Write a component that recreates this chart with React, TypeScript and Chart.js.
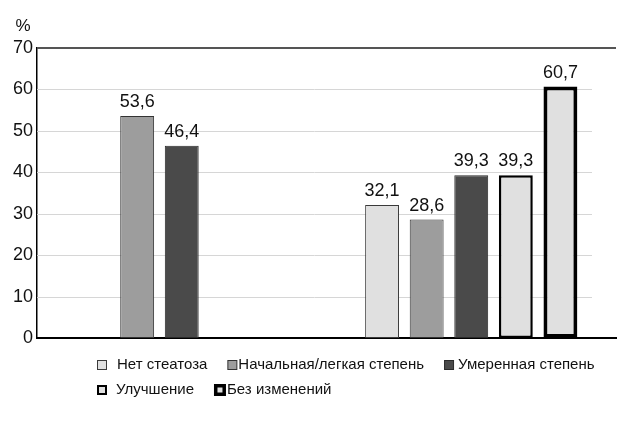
import React, { useEffect, useRef } from "react";
import { Chart, registerables } from "chart.js";

Chart.register(...registerables);

const categories = ["", ""];
const seriesNames = [
  "Нет стеатоза",
  "Начальная/легкая степень",
  "Умеренная степень",
  "Улучшение",
  "Без изменений",
];
const noSteatosis = [null, 32.1];
const initialMild = [53.6, 28.6];
const moderate = [46.4, 39.3];
const improvement = [null, 39.3];
const noChange = [null, 60.7];
const yTicks = [0, 10, 20, 30, 40, 50, 60, 70];
const yUnit = "%";

const FONT = "'Liberation Sans', Arial, sans-serif";
const LIGHT = "#e0e0e0";
const MID = "#9d9d9d";
const DARK = "#4a4a4a";

const fills = [LIGHT, MID, DARK, LIGHT, LIGHT];
const borders = ["#3a3a3a", "#333333", "#2a2a2a", "#000000", "#000000"];
const borderWidths = [1, 1, 1, 2.5, 4];
const legendBoxBorder = [1, 1, 1, 2, 3.5];
const legendRows = [[0, 1, 2], [3, 4]];
const legendTextGap = [10, 1, 4, 9, 1];

const fmt = (v: number) => v.toFixed(1).replace(".", ",");

const framePlugin = {
  id: "frame",
  beforeDatasetsDraw(chart: any) {
    const { ctx, chartArea } = chart;
    const y = chart.scales.y;
    ctx.save();
    ctx.strokeStyle = "#d6d6d6";
    ctx.lineWidth = 1;
    yTicks.forEach((t) => {
      if (t === 0 || t === 70) return;
      const py = Math.round(y.getPixelForValue(t)) + 0.5;
      ctx.beginPath();
      ctx.moveTo(chartArea.left, py);
      ctx.lineTo(chartArea.right - 24, py);
      ctx.stroke();
    });
    ctx.strokeStyle = "#555555";
    ctx.lineWidth = 2;
    const ty = y.getPixelForValue(70);
    ctx.beginPath();
    ctx.moveTo(chartArea.left, ty);
    ctx.lineTo(chartArea.right, ty);
    ctx.stroke();
    ctx.fillStyle = "#111";
    ctx.font = `17px ${FONT}`;
    ctx.textAlign = "center";
    ctx.textBaseline = "alphabetic";
    ctx.fillText(yUnit, 23, 31);
    ctx.restore();
  },
};

const labelPlugin = {
  id: "valueLabels",
  afterDatasetsDraw(chart: any) {
    const { ctx } = chart;
    ctx.save();
    ctx.fillStyle = "#111";
    ctx.font = `18px ${FONT}`;
    ctx.textAlign = "center";
    ctx.textBaseline = "alphabetic";
    chart.data.datasets.forEach((ds: any, i: number) => {
      const meta = chart.getDatasetMeta(i);
      meta.data.forEach((bar: any, j: number) => {
        const v = ds.data[j];
        if (v === null || v === undefined) return;
        ctx.fillText(fmt(v), bar.x, bar.y - 9);
      });
    });
    ctx.restore();
  },
};

const legendPlugin = {
  id: "customLegend",
  afterDraw(chart: any) {
    const { ctx } = chart;
    ctx.save();
    ctx.font = `15px ${FONT}`;
    ctx.textBaseline = "middle";
    ctx.textAlign = "left";
    const rowY = [365, 390];
    legendRows.forEach((row, r) => {
      let x = 97;
      const cy = rowY[r];
      row.forEach((idx) => {
        const size = idx === 4 ? 12 : 10;
        const bw = legendBoxBorder[idx];
        ctx.fillStyle = fills[idx];
        ctx.strokeStyle = borders[idx];
        ctx.lineWidth = bw;
        const bx = x + bw / 2;
        const by = cy - size / 2 + bw / 2;
        ctx.fillRect(bx, by, size - bw, size - bw);
        ctx.strokeRect(bx, by, size - bw, size - bw);
        const tx = x + size + legendTextGap[idx];
        ctx.fillStyle = "#111";
        ctx.fillText(seriesNames[idx], tx, cy);
        x = tx + ctx.measureText(seriesNames[idx]).width + 20;
      });
    });
    ctx.restore();
  },
};

export default function App() {
  const ref = useRef<HTMLCanvasElement | null>(null);
  useEffect(() => {
    if (!ref.current) return;
    const values = [noSteatosis, initialMild, moderate, improvement, noChange];
    const chart = new Chart(ref.current, {
      type: "bar",
      data: {
        labels: categories,
        datasets: values.map((d, i) => ({
          label: seriesNames[i],
          data: d as any,
          backgroundColor: fills[i],
          borderColor: borders[i],
          borderWidth: borderWidths[i],
          borderSkipped: false,
          categoryPercentage: 0.77,
          barPercentage: 0.76,
        })),
      },
      options: {
        responsive: false,
        animation: false,
        layout: { padding: { top: 48, bottom: 83, left: 0, right: 1 } },
        plugins: {
          legend: { display: false },
          tooltip: { enabled: false },
        },
        scales: {
          x: {
            grid: { display: false, drawTicks: false },
            ticks: { display: false },
            border: { display: true, color: "#000", width: 2 },
            afterFit: (s: any) => {
              s.height = 0;
            },
          },
          y: {
            min: 0,
            max: 70,
            grid: { display: false, drawTicks: false },
            border: { display: true, color: "#000", width: 1.5 },
            ticks: {
              stepSize: 10,
              padding: 4,
              color: "#111",
              font: { family: FONT, size: 18 },
            },
            afterFit: (s: any) => {
              s.width = 37;
            },
          },
        },
      },
      plugins: [framePlugin, labelPlugin, legendPlugin],
    });
    return () => chart.destroy();
  }, []);
  return (
    <div style={{ position: "fixed", left: 0, top: 0, width: 617, height: 421, background: "#fff" }}>
      <canvas ref={ref} width={617} height={421} />
    </div>
  );
}
